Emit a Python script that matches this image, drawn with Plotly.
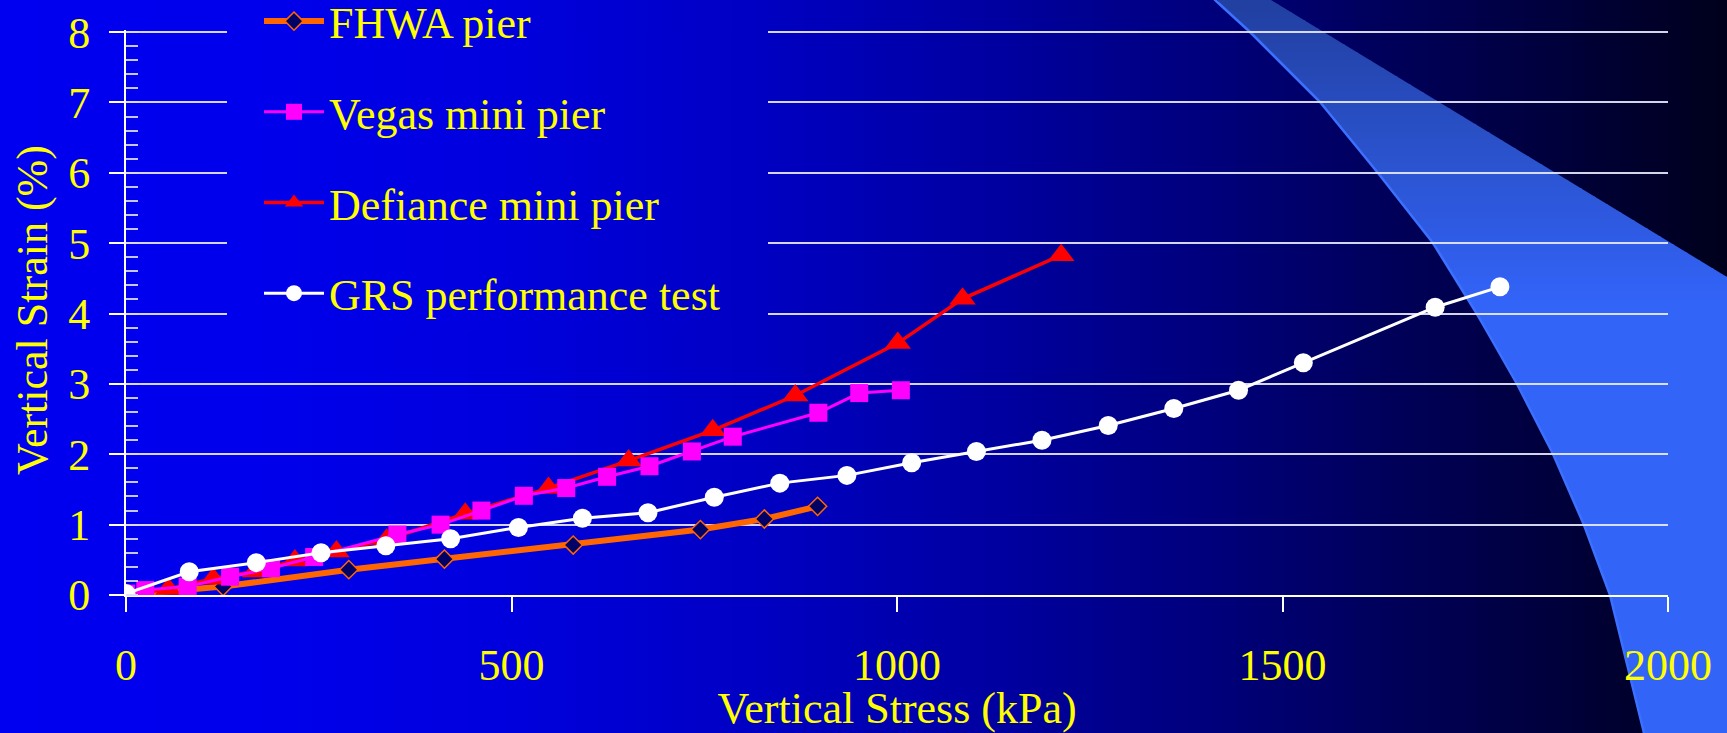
import numpy as np
import plotly.graph_objects as go

# ---------------- data ----------------
fhwa_x = [0, 126, 289, 413, 580, 745, 828, 897]
fhwa_y = [0.0, 0.12, 0.36, 0.51, 0.71, 0.93, 1.08, 1.26]

vegas_x = [0, 25, 80, 135, 188, 244, 352, 408, 461, 516, 571, 624, 679, 734, 787, 898, 951, 1005]
vegas_y = [0.02, 0.07, 0.12, 0.26, 0.38, 0.54, 0.86, 1.00, 1.20, 1.41, 1.52, 1.68, 1.83, 2.04, 2.25, 2.59, 2.87, 2.91]

defiance_x = [0, 55, 113, 167, 219, 273, 338, 440, 548, 652, 761, 868, 1001, 1085, 1213]
defiance_y = [0.0, 0.085, 0.23, 0.335, 0.49, 0.62, 0.785, 1.155, 1.52, 1.91, 2.34, 2.835, 3.58, 4.21, 4.83]

grs_x = [0, 82, 169, 253, 337, 421, 509, 592, 677, 763, 848, 935, 1019, 1103, 1188, 1274, 1359, 1443, 1527, 1698, 1782]
grs_y = [0.02, 0.33, 0.46, 0.60, 0.70, 0.80, 0.96, 1.09, 1.17, 1.39, 1.59, 1.70, 1.88, 2.04, 2.20, 2.41, 2.65, 2.91, 3.30, 4.09, 4.38]

series_names = ["FHWA pier", "Vegas mini pier", "Defiance mini pier", "GRS performance test"]
x_title = "Vertical Stress (kPa)"
y_title = "Vertical Strain (%)"
x_ticks = [0, 500, 1000, 1500, 2000]
y_ticks = [0, 1, 2, 3, 4, 5, 6, 7, 8]
X_RANGE = [0, 2000]
Y_RANGE = [0, 8.03]

# ---------------- geometry ----------------
FW, FH = 1727, 733
L, R, T, B = 126, 1668, 30, 595
PW, PH = R - L, B - T

def pxp(px):
    return (px - L) / PW

def pyp(py):
    return (B - py) / PH

def kx(px):
    return (px - L) / PW * X_RANGE[1]

def sy(py):
    return (B - py) / PH * Y_RANGE[1]

# background gradient (horizontal, blue -> near black)
g_px = [0, 250, 500, 750, 1000, 1250, 1500, 1727]
g_b = [240, 236, 222, 196, 160, 116, 70, 28]

def gcol(px):
    b = float(np.interp(px, g_px, g_b))
    return "rgb(0,0,%d)" % round(b)

shapes = []
step = 12
for x0 in range(0, FW, step):
    shapes.append(dict(type="rect", xref="paper", yref="paper", layer="below",
                       x0=pxp(x0), x1=pxp(x0 + step + 1), y0=pyp(FH + 2), y1=pyp(-2),
                       fillcolor=gcol(x0 + step / 2), line=dict(width=0)))

# swoosh band
cy = [0, 32, 102, 173, 243, 314, 384, 454, 525, 595, 733]
cxp = [1215, 1250, 1320, 1378, 1433, 1477, 1517, 1553, 1584, 1610, 1644]

def xl(y):
    return float(np.interp(y, cy, cxp))

def xr(y):
    return min(1271 + 456 * y / 277.0, 1760)

def bandcol(y):
    t = min(y / 300.0, 1.0)
    r = 34 + (51 - 34) * t
    g = 64 + (100 - 64) * t
    b = 160 + (248 - 160) * t
    return "rgb(%d,%d,%d)" % (r, g, b)

ystep = 8
for y0 in range(-4, FH + 4, ystep):
    y1 = y0 + ystep + 1
    pts = [(xl(y0), y0), (xr(y0), y0), (xr(y1), y1), (xl(y1), y1)]
    path = "M " + " L ".join("%.5f,%.5f" % (pxp(a), pyp(b)) for a, b in pts) + " Z"
    shapes.append(dict(type="path", xref="paper", yref="paper", layer="below",
                       path=path, fillcolor=bandcol(max(y0, 0) + ystep / 2), line=dict(width=0)))

ys = np.arange(-6, FH + 7, 6)
edge = "M " + " L ".join("%.5f,%.5f" % (pxp(xl(y)), pyp(y)) for y in ys)
shapes.append(dict(type="path", xref="paper", yref="paper", layer="below",
                   path=edge, line=dict(color="rgb(60,112,255)", width=2.5)))

# cover gridlines behind the legend (same gradient)
for x0 in range(227, 768, step):
    x1 = min(x0 + step + 1, 768)
    shapes.append(dict(type="rect", xref="x", yref="y", layer="between",
                       x0=kx(x0), x1=kx(x1), y0=sy(330), y1=sy(-5),
                       fillcolor=gcol(x0 + step / 2), line=dict(width=0)))

# ---------------- traces ----------------
FONT = "Liberation Serif, Times New Roman, serif"
YEL = "#FFFF00"

fig = go.Figure()
fig.add_trace(go.Scatter(x=fhwa_x, y=fhwa_y, name=series_names[0], mode="lines+markers",
                         legendrank=1, legendgroup="a",
                         line=dict(color="#FF6600", width=6),
                         marker=dict(symbol="diamond", size=14, color="#000066",
                                     line=dict(color="#FF6600", width=1.5))))
fig.add_trace(go.Scatter(x=defiance_x, y=defiance_y, name=series_names[2], mode="lines+markers",
                         legendrank=3, legendgroup="c",
                         line=dict(color="#FF0000", width=3.5),
                         marker=dict(symbol="triangle-up", size=23, color="#FF0000")))
fig.add_trace(go.Scatter(x=vegas_x, y=vegas_y, name=series_names[1], mode="lines+markers",
                         legendrank=2, legendgroup="b",
                         line=dict(color="#FF00FF", width=3),
                         marker=dict(symbol="square", size=18, color="#FF00FF")))
fig.add_trace(go.Scatter(x=grs_x, y=grs_y, name=series_names[3], mode="lines+markers",
                         legendrank=4, legendgroup="d",
                         line=dict(color="#FFFFFF", width=3),
                         marker=dict(symbol="circle", size=19, color="#FFFFFF")))

axis_common = dict(showline=True, linecolor="white", linewidth=2, automargin=False,
                   ticks="outside", ticklen=15, tickwidth=1.5, tickcolor="white",
                   zeroline=False, tickfont=dict(family=FONT, size=44, color=YEL))

fig.update_layout(
    width=FW, height=FH,
    margin=dict(l=L, r=FW - R, t=T, b=FH - B, pad=0, autoexpand=False),
    paper_bgcolor="#0000EE", plot_bgcolor="rgba(0,0,0,0)",
    shapes=shapes,
    showlegend=True,
    legend=dict(x=pxp(259), y=pyp(-14), xanchor="left", yanchor="top",
                bgcolor="rgba(0,0,0,0)", borderwidth=0,
                font=dict(family=FONT, size=44, color=YEL),
                itemwidth=60, tracegroupgap=30.5, traceorder="grouped"),
    xaxis=dict(range=X_RANGE, tickvals=x_ticks, showgrid=False,
               ticklabelstandoff=15,
               title=dict(text=x_title, standoff=12,
                          font=dict(family=FONT, size=44, color=YEL)),
               **axis_common),
    yaxis=dict(range=Y_RANGE, tickvals=y_ticks, showgrid=True,
               gridcolor="rgba(235,235,255,0.9)", gridwidth=1.5,
               ticklabelstandoff=10,
               minor=dict(ticks="inside", ticklen=12, tickwidth=1.5, dtick=0.2,
                          tickcolor="rgba(220,220,255,0.9)", showgrid=False),
               **axis_common),
    annotations=[dict(text=y_title, textangle=-90, xref="paper", yref="paper",
                      x=pxp(32), y=pyp(310), xanchor="center", yanchor="middle",
                      showarrow=False, font=dict(family=FONT, size=44, color=YEL))],
)

fig.write_html("out.html")
